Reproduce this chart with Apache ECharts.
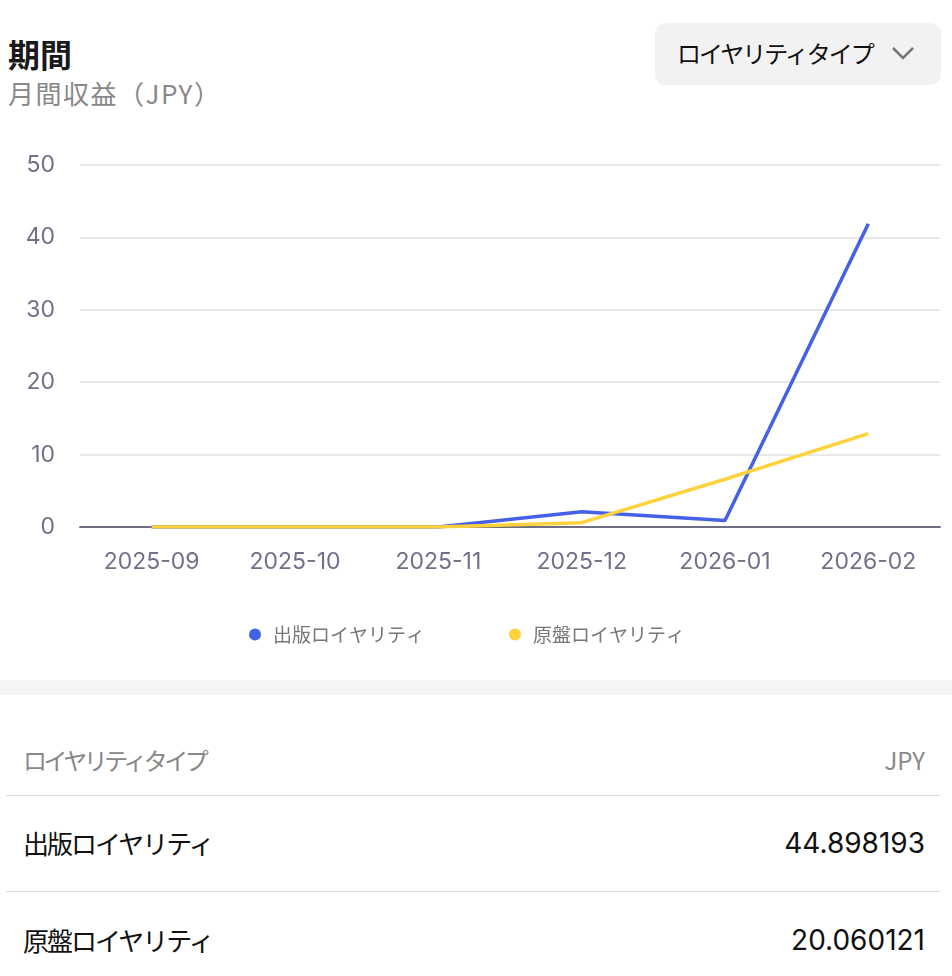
<!DOCTYPE html>
<html>
<head>
<meta charset="utf-8">
<script src="https://cdn.jsdelivr.net/npm/echarts@6/dist/echarts.min.js"></script>
<style>
  html, body { margin: 0; padding: 0; background: #fff; }
  body { width: 952px; height: 976px; position: relative; overflow: hidden;
         font-family: "Noto Sans CJK JP", "Noto Sans", sans-serif; line-height: 1; }
  .abs { position: absolute; }
  #title { left: 8px; top: 37px; font-size: 32px; font-weight: bold; color: #1a1a1a; }
  #sub { left: 8px; top: 80px; font-size: 26px; color: #888; letter-spacing: 1.5px; }
  #btn { left: 655px; top: 23px; width: 286px; height: 62px; background: #f2f2f2;
         border-radius: 10px; }
  #btn span { position: absolute; left: 22px; top: 18px; font-size: 24px; color: #111; letter-spacing: -2px; }
  #btn svg { position: absolute; left: 235px; top: 21px; }
  #chart { left: 0; top: 0; width: 952px; height: 680px; }
  #band { left: 0; top: 680px; width: 952px; height: 15px; background: #f5f5f5; }
  .row { left: 6px; width: 934px; }
  .row .l { position: absolute; left: 17px; }
  .row .r { position: absolute; right: 15px; font-family: "Inter", "Noto Sans", sans-serif; }
  .line { left: 6px; width: 934px; height: 1px; background: #dcdcdc; }
</style>
</head>
<body>
<div class="abs" id="title">期間</div>
<div class="abs" id="sub">月間収益（JPY）</div>
<div class="abs" id="btn"><span>ロイヤリティタイプ</span>
  <svg width="26" height="18" viewBox="0 0 26 18"><polyline points="3,4 13,14 23,4" fill="none" stroke="#777" stroke-width="2.5"/></svg>
</div>
<div class="abs" id="chart"></div>
<div class="abs" id="band"></div>
<div id="table"></div>

<script>
// 月
var months = ['2025-09', '2025-10', '2025-11', '2025-12', '2026-01', '2026-02'];

// 出版ロイヤリティ
var publishing = [0, 0, 0, 2.1, 0.9, 41.9];

// 原盤ロイヤリティ
var master = [0, 0, 0, 0.6, 6.6, 12.9];

// 系列名
var seriesNames = ['出版ロイヤリティ', '原盤ロイヤリティ'];

// 合計（表）
var totals = ['44.898193', '20.060121'];

// 表ヘッダー
var tableHead = ['ロイヤリティタイプ', 'JPY'];

var colors = ['#4561e8', '#fdd23c'];

// 表
(function() {
    var t = document.getElementById('table'), h = '';
    h += '<div class="abs row" style="top:748px;font-size:24px;color:#888">' +
        '<span class="l" style="top:0;letter-spacing:-3.5px">' + tableHead[0] + '</span>' +
        '<span class="r" style="top:0;font-family:\'Noto Sans CJK JP\'">' + tableHead[1] + '</span></div>';
    h += '<div class="abs line" style="top:795px"></div>';
    for (var i = 0; i < seriesNames.length; i++) {
        var top = 830 + i * 97;
        h += '<div class="abs row" style="top:' + top + 'px;font-size:26px;color:#111">' +
            '<span class="l" style="top:0;letter-spacing:-2px">' + seriesNames[i] + '</span>' +
            '<span class="r" style="top:-1px;font-size:28px">' + totals[i] + '</span></div>';
        if (i === 0) h += '<div class="abs line" style="top:891px"></div>';
    }
    t.innerHTML = h;
}());

var chart = echarts.init(document.getElementById('chart'));

chart.setOption({
    animation: false,
    color: colors,
    grid: { left: 80, right: 12, top: 165, bottom: 153 },
    legend: {
        top: 620,
        left: 244,
        icon: 'circle',
        itemWidth: 12,
        itemHeight: 12,
        itemGap: 84,
        textStyle: { color: '#777', fontSize: 19, fontFamily: 'Noto Sans CJK JP', padding: [0, 0, 0, 7] },
        data: seriesNames
    },
    xAxis: {
        type: 'category',
        data: months,
        axisLine: { lineStyle: { color: '#6e6e80', width: 2 } },
        axisTick: { alignWithLabel: true, length: 8, lineStyle: { color: '#6e6e80', width: 2 } },
        axisLabel: { color: '#70708a', fontSize: 23, margin: 24, fontFamily: 'Inter' }
    },
    yAxis: {
        type: 'value',
        min: 0,
        max: 50,
        interval: 10,
        axisLabel: { color: '#70708a', fontSize: 23, margin: 25, fontFamily: 'Inter' },
        splitLine: { lineStyle: { color: '#e0e0e6', width: 1.5 } }
    },
    series: [{
        name: seriesNames[0],
        type: 'line',
        data: publishing,
        showSymbol: false,
        lineStyle: { width: 3.5 }
    }, {
        name: seriesNames[1],
        type: 'line',
        data: master,
        showSymbol: false,
        lineStyle: { width: 3.5 }
    }]
});
</script>
</body>
</html>
